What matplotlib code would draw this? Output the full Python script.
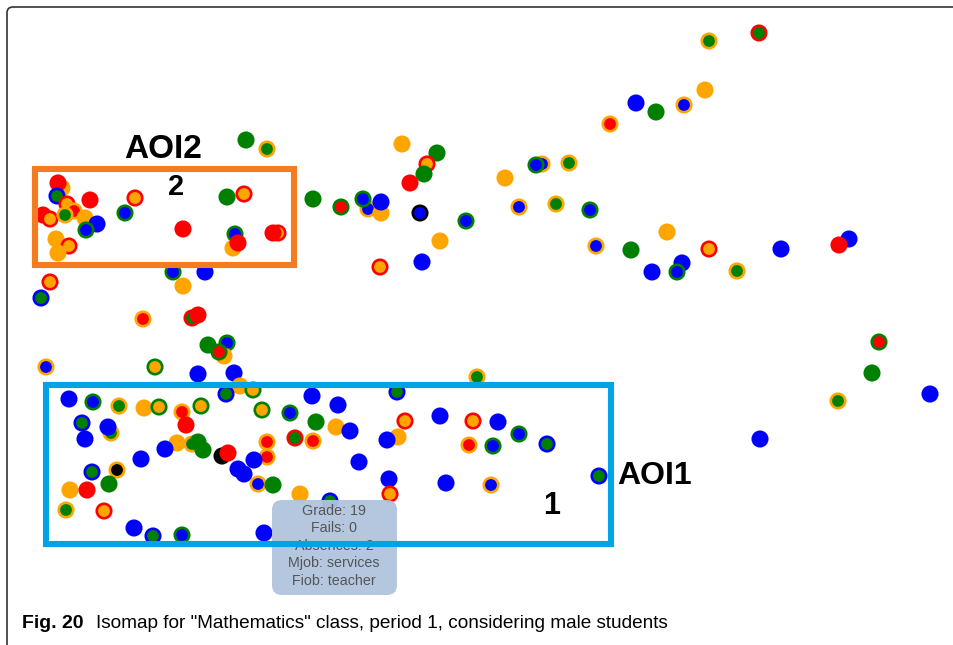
import matplotlib
matplotlib.use("Agg")
import matplotlib.pyplot as plt
from matplotlib.patches import FancyBboxPatch, Rectangle

# colour codes: b blue, g green, r red, o orange, k black
# fill = centre colour of a dot, edge = colour of its ring

# dots in the upper / right part of the map
upper_x = [759, 709, 705, 636, 656, 684, 610, 246, 267, 402, 437, 427,
           424, 410, 505, 542, 536, 569, 313, 341, 368, 381, 363, 381,
           420, 466, 519, 556, 590, 440, 596, 631, 667, 709, 781, 849,
           839, 380, 422, 652, 682, 677, 737, 879, 872, 838, 930, 760]
upper_y = [33, 41, 90, 103, 112, 105, 124, 140, 149, 144, 153, 164,
           174, 183, 178, 164, 165, 163, 199, 207, 209, 213, 199, 202,
           213, 221, 207, 204, 210, 241, 246, 250, 232, 249, 249, 239,
           245, 267, 262, 272, 263, 272, 271, 342, 373, 401, 394, 439]
upper_fill = ["g", "g", "o", "b", "g", "b", "r", "g", "g", "o", "g", "o",
              "g", "r", "o", "b", "b", "g", "g", "r", "b", "o", "b", "b",
              "b", "b", "b", "g", "b", "o", "b", "g", "o", "o", "b", "b",
              "r", "o", "b", "b", "b", "b", "g", "r", "g", "g", "b", "b"]
upper_edge = ["r", "o", "o", "b", "g", "o", "o", "g", "o", "o", "g", "r",
              "g", "r", "o", "o", "g", "o", "g", "g", "o", "o", "g", "b",
              "k", "g", "o", "o", "g", "o", "o", "g", "o", "r", "b", "b",
              "r", "r", "b", "b", "b", "g", "o", "g", "g", "o", "b", "b"]

# dots around AOI2
aoi2_x = [62, 58, 57, 90, 135, 67, 74, 43, 50, 65, 85, 97,
          86, 125, 56, 69, 58, 227, 244, 183, 235, 233, 238, 278, 273]
aoi2_y = [188, 183, 196, 200, 198, 204, 211, 215, 219, 215, 218, 224,
          230, 213, 239, 246, 253, 197, 194, 229, 234, 248, 243, 233, 233]
aoi2_fill = ["o", "r", "g", "r", "o", "o", "r", "r", "o", "g", "o", "b",
             "b", "b", "o", "o", "o", "g", "o", "r", "b", "o", "r", "o", "r"]
aoi2_edge = ["o", "r", "b", "r", "r", "r", "o", "r", "r", "o", "o", "b",
             "g", "g", "o", "r", "o", "g", "r", "r", "g", "o", "r", "r", "r"]

# dots between the two areas
mid_x = [173, 205, 183, 50, 41, 143, 192, 198, 208, 227,
         224, 219, 46, 155, 198, 234, 240, 253, 226, 477]
mid_y = [272, 272, 286, 282, 298, 319, 318, 315, 345, 343,
         356, 352, 367, 367, 374, 373, 386, 390, 394, 377]
mid_fill = ["b", "b", "o", "o", "g", "r", "g", "r", "g", "b",
            "o", "r", "b", "o", "b", "b", "o", "o", "g", "g"]
mid_edge = ["g", "b", "o", "r", "b", "o", "r", "r", "g", "g",
            "o", "g", "o", "g", "b", "b", "o", "g", "b", "o"]

# dots around AOI1
aoi1_x = [69, 93, 119, 144, 159, 182, 186, 201, 82, 111, 108, 85,
          177, 192, 198, 203, 165, 141, 222, 228, 92, 117, 109, 70,
          87, 66, 104, 134, 153, 182, 312, 338, 262, 290, 316, 336,
          350, 267, 295, 313, 267, 254, 238, 244, 258, 273, 300, 330,
          397, 398, 387, 359, 389, 390, 405, 440, 473, 498, 519, 547,
          469, 493, 446, 491, 599, 264]
aoi1_y = [399, 402, 406, 408, 407, 412, 425, 406, 423, 433, 427, 439,
          443, 444, 442, 450, 449, 459, 456, 453, 472, 470, 484, 490,
          490, 510, 511, 528, 536, 535, 396, 405, 410, 413, 422, 427,
          431, 442, 438, 441, 457, 460, 469, 474, 484, 485, 494, 501,
          392, 437, 440, 462, 479, 494, 421, 416, 421, 422, 434, 444,
          445, 446, 483, 485, 476, 533]
aoi1_fill = ["b", "b", "g", "o", "o", "r", "r", "o", "g", "g", "b", "b",
             "o", "g", "g", "g", "b", "b", "k", "r", "g", "k", "g", "o",
             "r", "g", "o", "b", "g", "b", "b", "b", "o", "b", "g", "o",
             "b", "r", "g", "r", "r", "b", "b", "b", "b", "g", "o", "g",
             "g", "o", "b", "b", "b", "o", "o", "b", "o", "b", "b", "g",
             "r", "b", "b", "b", "g", "b"]
aoi1_edge = ["b", "g", "o", "o", "g", "o", "r", "g", "b", "o", "b", "b",
             "o", "o", "g", "g", "b", "b", "k", "r", "b", "o", "g", "o",
             "r", "o", "r", "b", "b", "g", "b", "b", "g", "g", "g", "o",
             "b", "o", "r", "o", "o", "b", "b", "b", "o", "g", "o", "b",
             "b", "o", "b", "b", "b", "r", "r", "b", "r", "b", "g", "b",
             "o", "g", "b", "o", "b", "b"]

tip_lines = ["Grade: 19", "Fails: 0", "Absences: 2", "Mjob: services", "Fiob: teacher"]
caption = 'Isomap for "Mathematics" class, period 1, considering male students'


def main():
    colors = {"b": "#0000FF", "g": "#008000", "r": "#FF0000", "o": "#FFA500", "k": "#000000"}

    fig = plt.figure(figsize=(9.54, 6.45), dpi=100)
    ax = fig.add_axes([0, 0, 1, 1])
    ax.set_xlim(0, 954)
    ax.set_ylim(645, 0)
    ax.axis("off")

    # outer frame of the figure panel
    ax.add_patch(FancyBboxPatch((7, 7), 1000, 700, boxstyle="round,pad=0,rounding_size=6",
                                fill=False, edgecolor="#333333", linewidth=1.2, zorder=1))

    groups = [(upper_x, upper_y, upper_fill, upper_edge),
              (aoi2_x, aoi2_y, aoi2_fill, aoi2_edge),
              (mid_x, mid_y, mid_fill, mid_edge),
              (aoi1_x, aoi1_y, aoi1_fill, aoi1_edge)]
    for gx, gy, gfill, gedge in groups:
        ax.scatter(gx, gy, s=108,
                   c=[colors[c] for c in gfill],
                   edgecolors=[colors[c] for c in gedge],
                   linewidths=1.9, zorder=3)

    # tooltip
    ax.add_patch(FancyBboxPatch((275, 503), 119, 89, boxstyle="round,pad=3,rounding_size=10",
                                facecolor="#B0C4DE", edgecolor="none", alpha=0.95, zorder=4))
    for i, line in enumerate(tip_lines):
        ax.text(334, 511 + i * 17.5, line, ha="center", va="center", fontsize=10.3,
                family="Liberation Sans", color="#555555", zorder=5)

    # areas of interest
    ax.add_patch(Rectangle((35, 169), 259, 96, fill=False, edgecolor="#F47B20",
                           linewidth=4.4, zorder=6))
    ax.add_patch(Rectangle((46, 385), 565, 159, fill=False, edgecolor="#00A3E4",
                           linewidth=4.4, zorder=6))
    ax.text(163, 149, "AOI2", ha="center", va="center", fontsize=24, fontweight="bold",
            family="Liberation Sans", zorder=7)
    ax.text(176, 187, "2", ha="center", va="center", fontsize=21, fontweight="bold",
            family="Liberation Sans", zorder=7)
    ax.text(655, 476, "AOI1", ha="center", va="center", fontsize=23, fontweight="bold",
            family="Liberation Sans", zorder=7)
    ax.text(552, 506, "1", ha="center", va="center", fontsize=22, fontweight="bold",
            family="Liberation Sans", zorder=7)

    # caption
    ax.text(22, 628, "Fig. 20", ha="left", va="baseline", fontsize=14, fontweight="bold",
            family="Liberation Sans", zorder=7)
    ax.text(96, 628, caption, ha="left", va="baseline", fontsize=13.7,
            family="Liberation Sans", zorder=7)

    fig.savefig("out.png", dpi=100)
    plt.close(fig)


if __name__ == '__main__':
    main()
